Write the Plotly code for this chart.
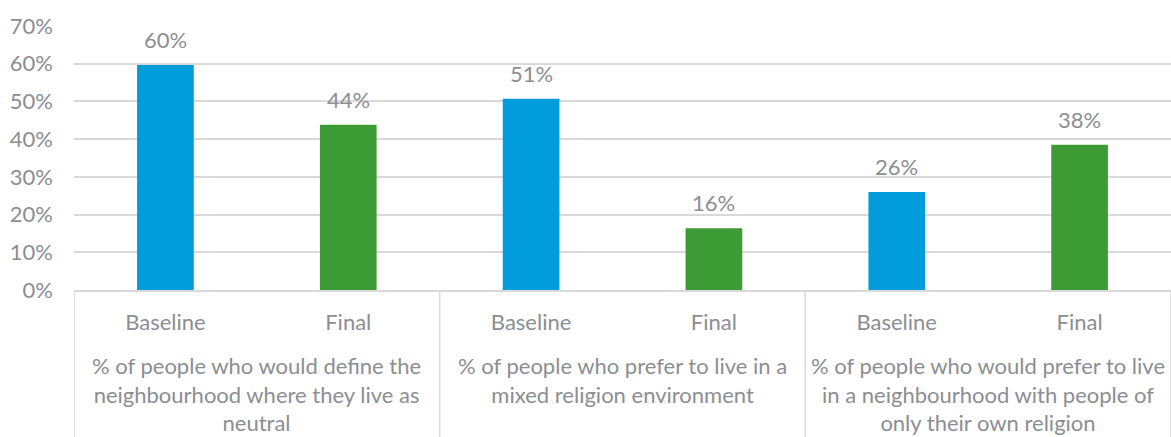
import plotly.graph_objects as go

groups = [
    "% of people who would define the<br>neighbourhood where they live as<br>neutral",
    "% of people who prefer to live in a<br>mixed religion environment",
    "% of people who would prefer to live<br>in a neighbourhood with people of<br>only their own religion",
]
sub_labels = ["Baseline", "Final", "Baseline", "Final", "Baseline", "Final"]
baseline_vals = [0.597, 0.507, 0.26]
final_vals = [0.438, 0.164, 0.385]
baseline_labels = ["60%", "51%", "26%"]
final_labels = ["44%", "16%", "38%"]

x_pos = list(range(len(sub_labels)))
base_x = x_pos[0::2]
final_x = x_pos[1::2]

BLUE = "#009cdc"
GREEN = "#3d9b35"
TXT = "#8b8e93"
GRID = "#d9d9d9"
FONT = "Lato"
FS = 22

fig = go.Figure()
fig.add_trace(go.Bar(x=base_x, y=baseline_vals, width=0.31, marker=dict(color=BLUE, line=dict(width=0)), name="Baseline"))
fig.add_trace(go.Bar(x=final_x, y=final_vals, width=0.31, marker=dict(color=GREEN, line=dict(width=0)), name="Final"))

annotations = []
for xs, vals, labs in [(base_x, baseline_vals, baseline_labels), (final_x, final_vals, final_labels)]:
    for x, v, t in zip(xs, vals, labs):
        annotations.append(dict(x=x, y=v, xref="x", yref="y", text=t, showarrow=False,
                                yanchor="bottom", yshift=10, font=dict(family=FONT, size=FS, color=TXT)))
for i, g in enumerate(groups):
    annotations.append(dict(x=2 * i + 0.5, y=0, xref="x", yref="paper", text=g, showarrow=False,
                            yanchor="top", yshift=-60, align="center",
                            font=dict(family=FONT, size=FS, color=TXT)))

shapes = []
for b in [-0.5, 1.5, 3.5, 5.5]:
    shapes.append(dict(type="line", xref="x", yref="paper", x0=b, x1=b, y0=0, y1=-0.6,
                       line=dict(color=GRID, width=1.5)))

fig.update_layout(
    width=1171, height=437,
    margin=dict(l=74, r=0, t=26, b=147),
    plot_bgcolor="white", paper_bgcolor="white",
    barmode="overlay", showlegend=False,
    annotations=annotations, shapes=shapes,
    font=dict(family=FONT, size=FS, color=TXT),
)
fig.update_xaxes(range=[-0.5, 5.5], tickvals=x_pos, ticktext=sub_labels, showgrid=False,
                 showline=True, linecolor=GRID, linewidth=1.5, ticks="", ticklabelstandoff=12,
                 tickfont=dict(family=FONT, size=FS, color=TXT), zeroline=False)
fig.update_yaxes(range=[0, 0.7001], tickvals=[0, 0.1, 0.2, 0.3, 0.4, 0.5, 0.6, 0.7],
                 tickformat=".0%", showgrid=True, gridcolor=GRID, gridwidth=1.5, zeroline=False,
                 showline=False, ticklabelstandoff=20, tickfont=dict(family=FONT, size=FS, color=TXT))

fig.write_html("out.html")
